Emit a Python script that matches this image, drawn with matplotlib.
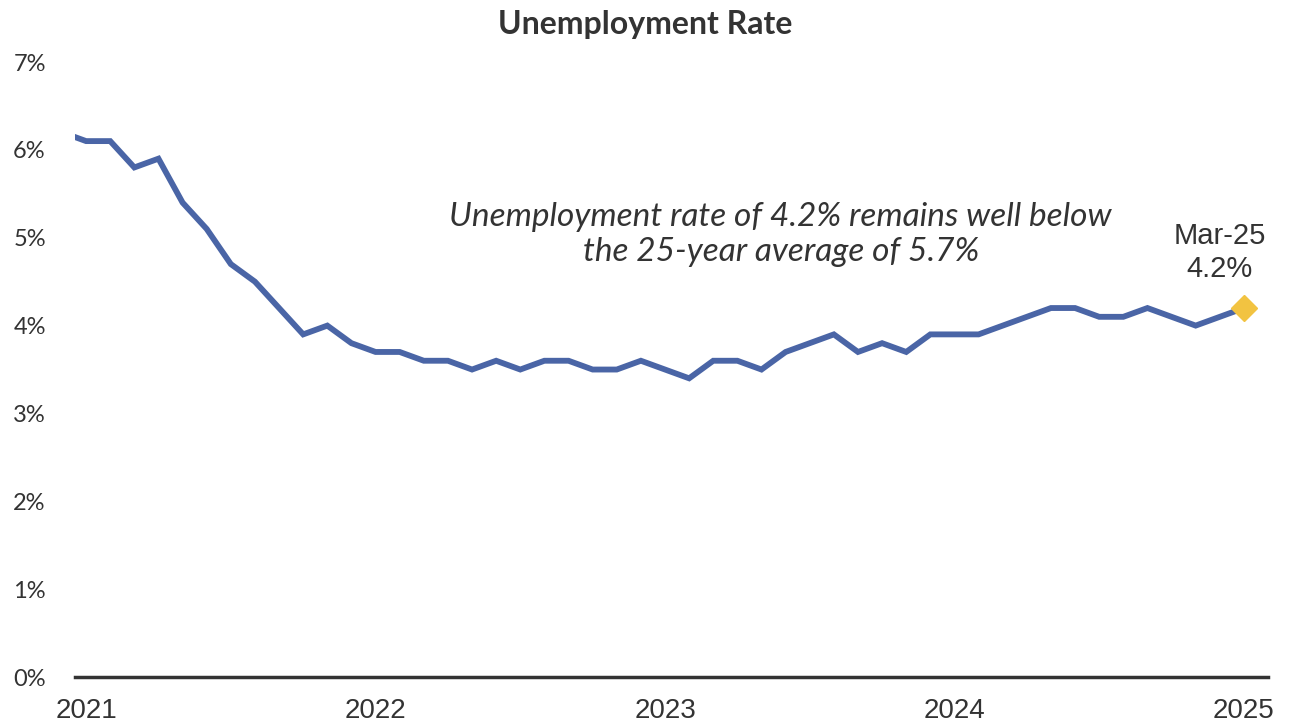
import matplotlib.pyplot as plt
import numpy as np

# monthly unemployment rate, Feb 2021 - Mar 2025
months = ["Feb-21", "Mar-21", "Apr-21", "May-21", "Jun-21", "Jul-21", "Aug-21", "Sep-21", "Oct-21", "Nov-21", "Dec-21",
          "Jan-22", "Feb-22", "Mar-22", "Apr-22", "May-22", "Jun-22", "Jul-22", "Aug-22", "Sep-22", "Oct-22", "Nov-22", "Dec-22",
          "Jan-23", "Feb-23", "Mar-23", "Apr-23", "May-23", "Jun-23", "Jul-23", "Aug-23", "Sep-23", "Oct-23", "Nov-23", "Dec-23",
          "Jan-24", "Feb-24", "Mar-24", "Apr-24", "May-24", "Jun-24", "Jul-24", "Aug-24", "Sep-24", "Oct-24", "Nov-24", "Dec-24",
          "Jan-25", "Feb-25", "Mar-25"]
rates = [6.2, 6.1, 6.1, 5.8, 5.9, 5.4, 5.1, 4.7, 4.5, 4.2, 3.9,
         4.0, 3.8, 3.7, 3.7, 3.6, 3.6, 3.5, 3.6, 3.5, 3.6, 3.6, 3.5,
         3.5, 3.6, 3.5, 3.4, 3.6, 3.6, 3.5, 3.7, 3.8, 3.9, 3.7, 3.8,
         3.7, 3.9, 3.9, 3.9, 4.0, 4.1, 4.2, 4.2, 4.1, 4.1, 4.2, 4.1,
         4.0, 4.1, 4.2]
year_labels = ["2021", "2022", "2023", "2024", "2025"]
y_ticks = [0, 1, 2, 3, 4, 5, 6, 7]

x = np.arange(len(rates))
tick_pos = [i for i, m in enumerate(months) if m.startswith("Mar")]

fig = plt.figure(figsize=(12.93, 7.28), dpi=100)
ax = fig.add_axes([0.058, 0.070, 0.9227, 0.8448])

ax.plot(x, rates, color="#4A65A6", lw=4.2, solid_joinstyle="miter", zorder=3)
ax.plot(x[-1], rates[-1], marker="D", color="#F2C341", markersize=13, zorder=4, clip_on=False)

ax.set_xlim(0.54, 50.0)
ax.set_ylim(0, 7)

ax.set_yticks(y_ticks)
ax.set_yticklabels([f"{v}%" for v in y_ticks], fontsize=17, color="#333333", family="Lato")
ax.set_xticks(tick_pos)
ax.set_xticklabels(year_labels, fontsize=20, color="#333333", family="Liberation Sans")
ax.tick_params(axis="both", length=0)
ax.tick_params(axis="x", pad=15)
ax.tick_params(axis="y", pad=21)

for s in ["top", "right", "left"]:
    ax.spines[s].set_visible(False)
ax.spines["bottom"].set_color("#333333")
ax.spines["bottom"].set_linewidth(2.5)

fig.text(0.499, 0.966, "Unemployment Rate", ha="center", va="center",
         fontsize=23, fontweight="bold", color="#333333", family="Lato")

ax.text(29.8, 5.04, "Unemployment rate of 4.2% remains well below\nthe 25-year average of 5.7%",
        ha="center", va="center", fontsize=24, style="italic", color="#333333",
        family="Lato", linespacing=1.2)

ax.text(48.0, 4.83, f"{months[-1]}\n{rates[-1]}%", ha="center", va="center",
        fontsize=21, color="#333333", family="Liberation Sans", linespacing=1.25)

fig.savefig("out.png", dpi=100)
